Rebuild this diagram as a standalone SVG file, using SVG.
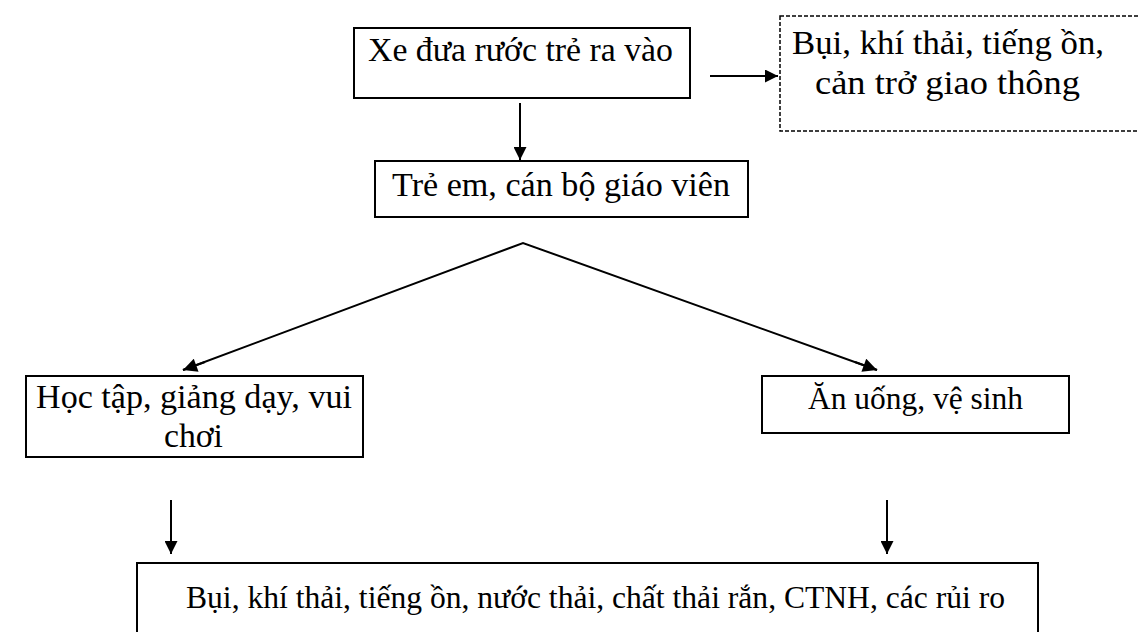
<svg xmlns="http://www.w3.org/2000/svg" width="1138" height="632" viewBox="0 0 1138 632">
<style>
.box{fill:#fff;stroke:#000;stroke-width:2}
.dash{fill:#fff;stroke:#000;stroke-width:1.5;stroke-dasharray:4,2}
.t{font-family:"Liberation Serif","Times New Roman",serif;font-size:34px;fill:#000}
.s{font-size:32px}
.c{stroke:#000;stroke-width:2;fill:none}
</style>
<defs>
<marker id="ah" viewBox="0 0 10 10" refX="10" refY="5" markerWidth="16" markerHeight="13" markerUnits="userSpaceOnUse" orient="auto">
<path d="M0,0 L10,5 L0,10 z" fill="#000"/>
</marker>
<marker id="ahd" viewBox="0 0 10 10" refX="10" refY="5" markerWidth="19" markerHeight="14" markerUnits="userSpaceOnUse" orient="auto">
<path d="M0,0 L10,5 L0,10 z" fill="#000"/>
</marker>
</defs>
<g id="connectors">
<line class="c" x1="710" y1="76" x2="778" y2="76" stroke-width="2.6" marker-end="url(#ah)"/>
<line class="c" x1="520" y1="103" x2="520" y2="160" marker-end="url(#ah)"/>
<polyline class="c" points="183,370 523,243 877,370" stroke-width="1.6"/>
<line class="c" x1="205" y1="362" x2="183" y2="370" marker-end="url(#ahd)"/>
<line class="c" x1="855" y1="362" x2="877" y2="370" marker-end="url(#ahd)"/>
<line class="c" x1="171" y1="500" x2="171" y2="554" marker-end="url(#ah)"/>
<line class="c" x1="887" y1="500" x2="887" y2="554" marker-end="url(#ah)"/>
</g>
<g id="n1"><rect class="box" x="354" y="28" width="336" height="70"/><text class="t" x="368" y="61" textLength="305" lengthAdjust="spacingAndGlyphs">Xe đưa rước trẻ ra vào</text></g>
<g id="n2"><rect class="dash" x="780" y="16" width="370" height="115"/><text class="t" x="792" y="54" textLength="312" lengthAdjust="spacingAndGlyphs">Bụi, khí thải, tiếng ồn,</text><text class="t" x="815" y="94" textLength="265" lengthAdjust="spacingAndGlyphs">cản trở giao thông</text></g>
<g id="n3"><rect class="box" x="375" y="161" width="373" height="56"/><text class="t" x="392" y="196" textLength="338" lengthAdjust="spacingAndGlyphs">Trẻ em, cán bộ giáo viên</text></g>
<g id="n4"><rect class="box" x="26" y="376" width="337" height="81"/><text class="t" x="36" y="408" textLength="316" lengthAdjust="spacingAndGlyphs">Học tập, giảng dạy, vui</text><text class="t" x="164" y="447" textLength="59" lengthAdjust="spacingAndGlyphs">chơi</text></g>
<g id="n5"><rect class="box" x="762" y="376" width="307" height="57"/><text class="t s" x="808" y="409" textLength="215" lengthAdjust="spacingAndGlyphs">Ăn uống, vệ sinh</text></g>
<g id="n6"><rect class="box" x="137" y="563" width="901" height="80"/><text class="t s" x="186" y="608" textLength="819" lengthAdjust="spacingAndGlyphs">Bụi, khí thải, tiếng ồn, nước thải, chất thải rắn, CTNH, các rủi ro</text></g>
</svg>
